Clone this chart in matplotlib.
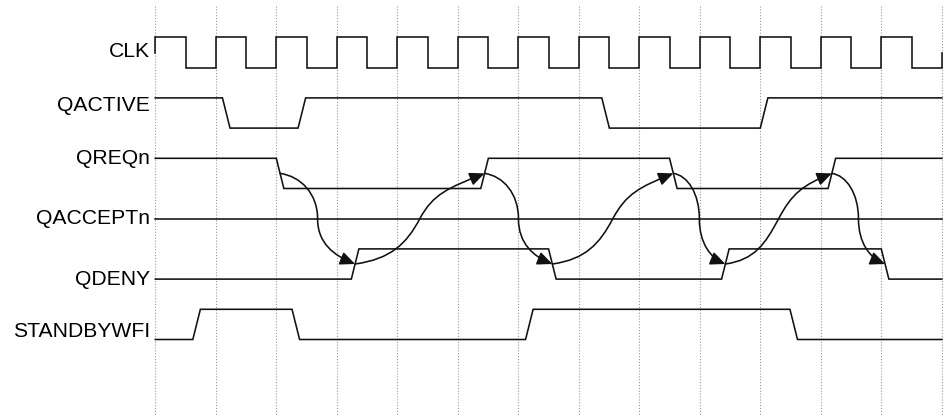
import math
import matplotlib
matplotlib.use("Agg")
import matplotlib.pyplot as plt
from matplotlib.path import Path
from matplotlib.patches import FancyArrowPatch

# ---------------- data ----------------
signal_names = ["CLK", "QACTIVE", "QREQn", "QACCEPTn", "QDENY", "STANDBYWFI"]
n_cycles = 13                     # clock cycles shown (grid line at every rising edge)

# level rows (0 = top); each signal's high row, low row = high + 1
high_rows = [0, 2, 4, 6, 7, 9]

# initial logic level (1 = high) and times (in clock cycles) where each transition starts
qactive_init = 1
qactive_edges = [1.11, 2.36, 7.38, 10.0]
qreqn_init = 1
qreqn_edges = [2.0, 5.38, 8.50, 11.12]
qacceptn_init = 1
qacceptn_edges = []
qdeny_init = 0
qdeny_edges = [3.24, 6.50, 9.36, 12.0]
standbywfi_init = 0
standbywfi_edges = [0.62, 2.26, 6.12, 10.49]

# handshake arrows: (signal, edge index) -> (signal, edge index)
arrow_chain = [("QREQn", 0), ("QDENY", 0), ("QREQn", 1), ("QDENY", 1),
               ("QREQn", 2), ("QDENY", 2), ("QREQn", 3), ("QDENY", 3)]

edge_width = 0.125  # duration of a slanted transition, in cycles

# ---------------- figure ----------------
fig = plt.figure(figsize=(9.5, 4.15), dpi=100)
ax = fig.add_axes([0, 0, 1, 1])
px_per_cycle = 60.5
x0_px = 155.3
px_per_row = 30.2
y0_px = 37.5
ax.set_xlim(-x0_px / px_per_cycle, (950 - x0_px) / px_per_cycle)
ax.set_ylim((415 - y0_px) / px_per_row, -y0_px / px_per_row)
ax.axis("off")

line_color = "#111111"
lw = 1.15

# grid lines
grid_top = (6 - y0_px) / px_per_row
for i in range(n_cycles + 1):
    ax.plot([i, i], [grid_top, ax.get_ylim()[0]], color="#9a9a9a", lw=0.8,
            ls=(0, (1, 1.6)), zorder=1)

# clock
clk_hi, clk_lo = high_rows[0], high_rows[0] + 1
cx, cy = [0, 0], [(clk_hi + clk_lo) / 2, clk_hi]
for i in range(n_cycles):
    cx += [i + 0.5, i + 0.5, i + 1, i + 1]
    cy += [clk_hi, clk_lo, clk_lo, clk_hi if i < n_cycles - 1 else (clk_hi + clk_lo) / 2]
ax.plot(cx, cy, color=line_color, lw=lw, solid_joinstyle="miter", zorder=3)

signals = {
    "QACTIVE": (qactive_init, qactive_edges, high_rows[1]),
    "QREQn": (qreqn_init, qreqn_edges, high_rows[2]),
    "QACCEPTn": (qacceptn_init, qacceptn_edges, high_rows[3]),
    "QDENY": (qdeny_init, qdeny_edges, high_rows[4]),
    "STANDBYWFI": (standbywfi_init, standbywfi_edges, high_rows[5]),
}


def level_y(name, v):
    init, edges, hi = signals[name]
    if name == "QACCEPTn":
        return hi
    return hi if v else hi + 1


for name, (init, edges, hi) in signals.items():
    v = init
    xs, ys = [0], [level_y(name, v)]
    for t in edges:
        xs.append(t)
        ys.append(level_y(name, v))
        v = 1 - v
        xs.append(t + edge_width)
        ys.append(level_y(name, v))
    xs.append(n_cycles)
    ys.append(level_y(name, v))
    ax.plot(xs, ys, color=line_color, lw=lw, solid_joinstyle="miter", zorder=3)


def edge_mid(name, idx):
    init, edges, hi = signals[name]
    return edges[idx] + edge_width / 2, hi + 0.5


K = 0.5523
for a, b in zip(arrow_chain[:-1], arrow_chain[1:]):
    x1, y1 = edge_mid(*a)
    x2, y2 = edge_mid(*b)
    # work in screen-like units (px) for the shape, then convert back
    hx = (x2 - x1) / 2 * px_per_cycle
    hy = (y2 - y1) / 2 * px_per_row
    sg = 1 if hy > 0 else -1
    ang = math.radians(90 if 2 * hx < 85 else 62)
    L = K * abs(hy) / math.sin(ang)
    ux, uy = math.cos(ang), math.sin(ang) * sg
    t_start, t_end = math.tan(math.radians(8)), math.tan(math.radians(22))
    pts_px = [(0, 0),
              (K * hx, sg * t_start * K * hx),
              (hx - L * ux, hy - L * uy),
              (hx, hy),
              (hx + L * ux, hy + L * uy),
              (2 * hx - K * hx, 2 * hy - sg * t_end * K * hx),
              (2 * hx, 2 * hy)]
    verts = [(x1 + px / px_per_cycle, y1 + py / px_per_row) for px, py in pts_px]
    codes = [Path.MOVETO] + [Path.CURVE4] * 6
    arr = FancyArrowPatch(path=Path(verts, codes),
                          arrowstyle="-|>,head_length=0.45,head_width=0.2",
                          mutation_scale=20, color=line_color, lw=lw,
                          shrinkA=0, shrinkB=0, zorder=4)
    ax.add_patch(arr)

# labels
label_x = (150 - x0_px) / px_per_cycle
label_y = [0.45, 2.24, 4.0, 6.0, 8.0, 9.72]
for name, yl in zip(signal_names, label_y):
    ax.text(label_x, yl, name, ha="right", va="center", fontsize=15.2,
            family=["Liberation Sans", "DejaVu Sans"], color="black", zorder=5)

fig.savefig("out.png", dpi=100)
